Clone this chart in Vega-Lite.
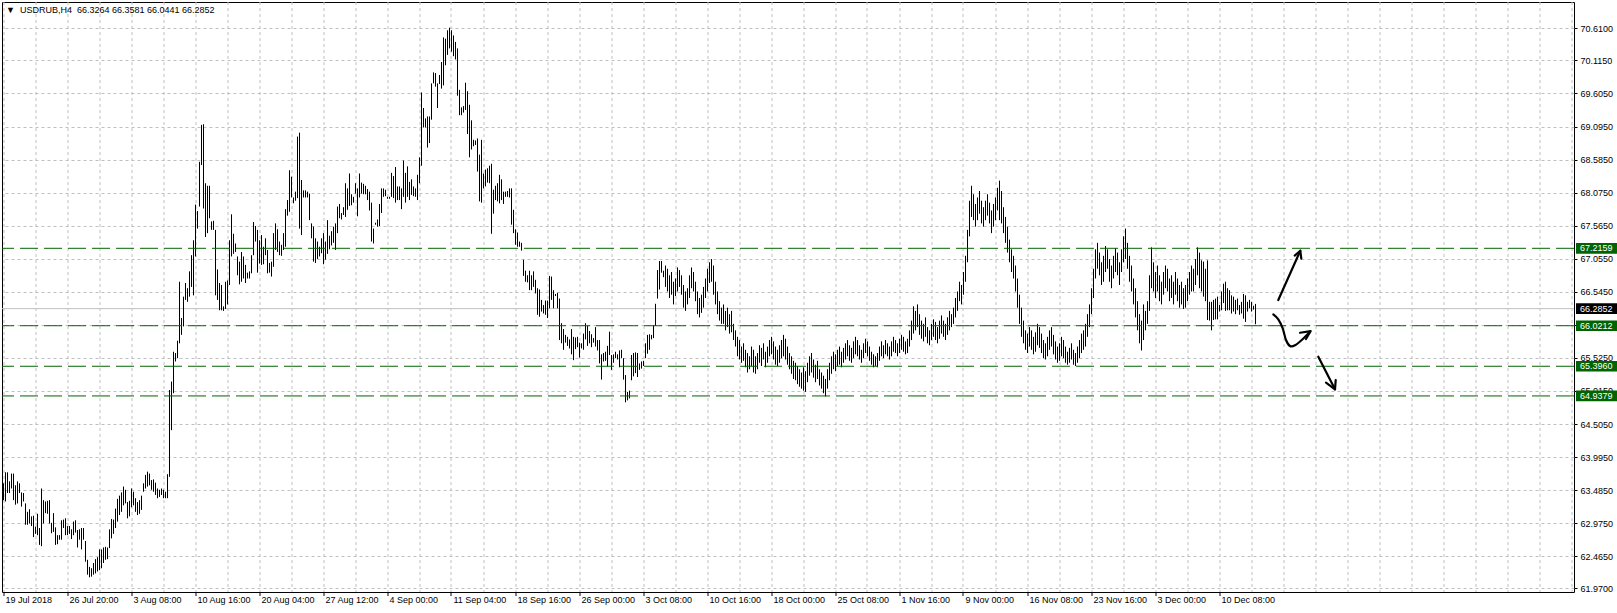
{
"$schema": "https://vega.github.io/schema/vega-lite/v6.json",
"width": 1572, "height": 590,
"autosize": {"type": "none"},
"padding": {"left": 2, "top": 2, "right": 43, "bottom": 21},
"background": "white",
"config": {"view": {"stroke": "black", "strokeWidth": 1}, "font": "Liberation Sans"},
"title": {"text": "▼\u00a0\u00a0USDRUB,H4\u00a0\u00a066.3264 66.3581 66.0441 66.2852", "anchor": "start", "frame": "group", "orient": "top", "offset": -13, "dx": 4, "fontSize": 9, "font": "Liberation Sans", "fontWeight": "normal", "color": "black"},
"resolve": {"axis": {"x": "independent", "y": "independent"}},
"datasets": {
"bars": [
{"i":0,"h":63.59,"l":63.33},{"i":1,"h":63.76,"l":63.31},{"i":2,"h":63.76,"l":63.44},{"i":3,"h":63.62,"l":63.44},{"i":4,"h":63.74,"l":63.51},{"i":5,"h":63.74,"l":63.33},{"i":6,"h":63.56,"l":63.26},{"i":7,"h":63.62,"l":63.28},{"i":8,"h":63.59,"l":63.44},{"i":9,"h":63.45,"l":63.23},
{"i":10,"h":63.44,"l":63.31},{"i":11,"h":63.28,"l":62.95},{"i":12,"h":63.15,"l":62.95},{"i":13,"h":63.19,"l":62.97},{"i":14,"h":63.08,"l":62.93},{"i":15,"h":63.09,"l":62.76},{"i":16,"h":62.92,"l":62.81},{"i":17,"h":63.12,"l":62.79},{"i":18,"h":62.90,"l":62.64},{"i":19,"h":63.51,"l":62.62},
{"i":20,"h":63.33,"l":62.97},{"i":21,"h":63.31,"l":63.13},{"i":22,"h":63.32,"l":63.12},{"i":23,"h":63.33,"l":62.97},{"i":24,"h":62.98,"l":62.82},{"i":25,"h":63.13,"l":62.84},{"i":26,"h":62.91,"l":62.64},{"i":27,"h":62.79,"l":62.65},{"i":28,"h":62.79,"l":62.72},{"i":29,"h":63.02,"l":62.72},
{"i":30,"h":63.03,"l":62.90},{"i":31,"h":63.05,"l":62.79},{"i":32,"h":62.93,"l":62.79},{"i":33,"h":62.93,"l":62.81},{"i":34,"h":62.88,"l":62.73},{"i":35,"h":63.00,"l":62.79},{"i":36,"h":63.02,"l":62.83},{"i":37,"h":62.87,"l":62.60},{"i":38,"h":62.88,"l":62.72},{"i":39,"h":62.90,"l":62.57},
{"i":40,"h":62.90,"l":62.72},{"i":41,"h":62.70,"l":62.38},{"i":42,"h":62.41,"l":62.18},{"i":43,"h":62.30,"l":62.14},{"i":44,"h":62.28,"l":62.15},{"i":45,"h":62.36,"l":62.18},{"i":46,"h":62.42,"l":62.20},{"i":47,"h":62.45,"l":62.23},{"i":48,"h":62.57,"l":62.25},{"i":49,"h":62.57,"l":62.28},
{"i":50,"h":62.60,"l":62.36},{"i":51,"h":62.61,"l":62.41},{"i":52,"h":62.60,"l":62.42},{"i":53,"h":62.88,"l":62.59},{"i":54,"h":63.04,"l":62.74},{"i":55,"h":63.03,"l":62.81},{"i":56,"h":63.20,"l":62.90},{"i":57,"h":63.35,"l":63.00},{"i":58,"h":63.40,"l":63.10},{"i":59,"h":63.45,"l":63.15},
{"i":60,"h":63.54,"l":63.25},{"i":61,"h":63.49,"l":63.28},{"i":62,"h":63.30,"l":63.05},{"i":63,"h":63.32,"l":63.08},{"i":64,"h":63.51,"l":63.22},{"i":65,"h":63.46,"l":63.25},{"i":66,"h":63.36,"l":63.15},{"i":67,"h":63.30,"l":63.10},{"i":68,"h":63.33,"l":63.12},{"i":69,"h":63.40,"l":63.18},
{"i":70,"h":63.59,"l":63.46},{"i":71,"h":63.72,"l":63.51},{"i":72,"h":63.77,"l":63.54},{"i":73,"h":63.74,"l":63.56},{"i":74,"h":63.64,"l":63.49},{"i":75,"h":63.65,"l":63.46},{"i":76,"h":63.60,"l":63.41},{"i":77,"h":63.51,"l":63.36},{"i":78,"h":63.49,"l":63.38},{"i":79,"h":63.51,"l":63.41},
{"i":80,"h":63.49,"l":63.36},{"i":81,"h":63.46,"l":63.36},{"i":82,"h":63.73,"l":63.36},{"i":83,"h":65.03,"l":63.69},{"i":84,"h":65.16,"l":64.41},{"i":85,"h":65.62,"l":64.98},{"i":86,"h":65.60,"l":65.47},{"i":87,"h":65.79,"l":65.52},{"i":88,"h":66.70,"l":65.75},{"i":89,"h":66.14,"l":65.88},
{"i":90,"h":66.47,"l":66.01},{"i":91,"h":66.68,"l":66.42},{"i":92,"h":66.60,"l":66.39},{"i":93,"h":66.86,"l":66.47},{"i":94,"h":67.11,"l":66.62},{"i":95,"h":67.34,"l":66.49},{"i":96,"h":67.89,"l":67.09},{"i":97,"h":67.79,"l":67.52},{"i":98,"h":68.55,"l":67.86},{"i":99,"h":69.12,"l":68.50},
{"i":100,"h":69.13,"l":67.83},{"i":101,"h":68.22,"l":67.39},{"i":102,"h":68.18,"l":67.45},{"i":103,"h":68.18,"l":67.68},{"i":104,"h":67.63,"l":67.50},{"i":105,"h":67.64,"l":67.50},{"i":106,"h":67.50,"l":66.49},{"i":107,"h":66.89,"l":66.42},{"i":108,"h":66.68,"l":66.26},{"i":109,"h":66.65,"l":66.26},
{"i":110,"h":66.32,"l":66.25},{"i":111,"h":66.70,"l":66.28},{"i":112,"h":66.72,"l":66.35},{"i":113,"h":67.34,"l":66.65},{"i":114,"h":67.74,"l":67.09},{"i":115,"h":67.44,"l":67.13},{"i":116,"h":67.29,"l":67.16},{"i":117,"h":67.09,"l":66.80},{"i":118,"h":67.01,"l":66.66},{"i":119,"h":67.16,"l":66.70},
{"i":120,"h":67.09,"l":66.75},{"i":121,"h":66.96,"l":66.68},{"i":122,"h":66.84,"l":66.75},{"i":123,"h":66.86,"l":66.75},{"i":124,"h":67.11,"l":66.83},{"i":125,"h":67.62,"l":67.11},{"i":126,"h":67.56,"l":67.32},{"i":127,"h":67.50,"l":66.84},{"i":128,"h":67.34,"l":66.98},{"i":129,"h":67.42,"l":66.96},
{"i":130,"h":67.24,"l":66.97},{"i":131,"h":67.37,"l":67.11},{"i":132,"h":67.19,"l":66.83},{"i":133,"h":66.99,"l":66.84},{"i":134,"h":67.01,"l":66.78},{"i":135,"h":67.45,"l":66.93},{"i":136,"h":67.60,"l":67.19},{"i":137,"h":67.51,"l":67.16},{"i":138,"h":67.32,"l":67.11},{"i":139,"h":67.27,"l":67.10},
{"i":140,"h":67.45,"l":67.19},{"i":141,"h":67.82,"l":67.24},{"i":142,"h":67.96,"l":67.72},{"i":143,"h":68.42,"l":67.78},{"i":144,"h":68.32,"l":68.00},{"i":145,"h":68.00,"l":67.91},{"i":146,"h":68.09,"l":67.95},{"i":147,"h":68.94,"l":67.99},{"i":148,"h":69.00,"l":67.52},{"i":149,"h":68.27,"l":67.42},
{"i":150,"h":68.11,"l":68.00},{"i":151,"h":68.11,"l":68.00},{"i":152,"h":68.09,"l":68.00},{"i":153,"h":68.06,"l":67.65},{"i":154,"h":67.60,"l":67.37},{"i":155,"h":67.55,"l":67.01},{"i":156,"h":67.37,"l":66.99},{"i":157,"h":67.32,"l":67.05},{"i":158,"h":67.24,"l":67.09},{"i":159,"h":67.37,"l":67.14},
{"i":160,"h":67.45,"l":66.97},{"i":161,"h":67.32,"l":67.04},{"i":162,"h":67.65,"l":67.13},{"i":163,"h":67.41,"l":67.20},{"i":164,"h":67.48,"l":67.26},{"i":165,"h":67.55,"l":67.30},{"i":166,"h":67.60,"l":67.19},{"i":167,"h":67.86,"l":67.45},{"i":168,"h":67.90,"l":67.68},{"i":169,"h":67.76,"l":67.66},
{"i":170,"h":67.85,"l":67.73},{"i":171,"h":68.22,"l":67.70},{"i":172,"h":68.14,"l":67.81},{"i":173,"h":68.37,"l":67.87},{"i":174,"h":68.05,"l":67.88},{"i":175,"h":68.01,"l":67.92},{"i":176,"h":68.22,"l":68.06},{"i":177,"h":68.14,"l":67.71},{"i":178,"h":68.37,"l":68.00},{"i":179,"h":68.23,"l":68.06},
{"i":180,"h":68.21,"l":68.05},{"i":181,"h":68.18,"l":68.05},{"i":182,"h":68.13,"l":67.96},{"i":183,"h":68.09,"l":67.80},{"i":184,"h":67.92,"l":67.32},{"i":185,"h":67.52,"l":67.29},{"i":186,"h":67.61,"l":67.58},{"i":187,"h":67.66,"l":67.55},{"i":188,"h":67.90,"l":67.56},{"i":189,"h":68.14,"l":67.76},
{"i":190,"h":68.14,"l":68.01},{"i":191,"h":68.12,"l":68.02},{"i":192,"h":68.01,"l":67.98},{"i":193,"h":68.01,"l":67.98},{"i":194,"h":68.38,"l":68.01},{"i":195,"h":68.33,"l":67.99},{"i":196,"h":68.47,"l":67.92},{"i":197,"h":68.17,"l":67.96},{"i":198,"h":68.17,"l":67.96},{"i":199,"h":68.14,"l":67.82},
{"i":200,"h":68.57,"l":68.01},{"i":201,"h":68.38,"l":67.92},{"i":202,"h":68.48,"l":68.01},{"i":203,"h":68.24,"l":67.96},{"i":204,"h":68.28,"l":68.04},{"i":205,"h":68.17,"l":68.02},{"i":206,"h":68.14,"l":68.01},{"i":207,"h":68.35,"l":67.96},{"i":208,"h":68.62,"l":68.22},{"i":209,"h":69.62,"l":68.49},
{"i":210,"h":69.38,"l":69.08},{"i":211,"h":69.22,"l":69.08},{"i":212,"h":69.25,"l":68.77},{"i":213,"h":69.25,"l":68.84},{"i":214,"h":69.76,"l":69.20},{"i":215,"h":69.93,"l":69.76},{"i":216,"h":69.92,"l":69.71},{"i":217,"h":69.76,"l":69.38},{"i":218,"h":69.89,"l":69.75},{"i":219,"h":70.09,"l":69.68},
{"i":220,"h":70.47,"l":69.73},{"i":221,"h":70.45,"l":70.04},{"i":222,"h":70.58,"l":70.20},{"i":223,"h":70.62,"l":70.30},{"i":224,"h":70.58,"l":70.25},{"i":225,"h":70.50,"l":70.18},{"i":226,"h":70.40,"l":70.13},{"i":227,"h":70.30,"l":69.57},{"i":228,"h":69.66,"l":69.27},{"i":229,"h":69.39,"l":69.27},
{"i":230,"h":69.41,"l":69.31},{"i":231,"h":69.77,"l":69.35},{"i":232,"h":69.64,"l":68.98},{"i":233,"h":69.43,"l":68.62},{"i":234,"h":69.19,"l":68.74},{"i":235,"h":68.89,"l":68.79},{"i":236,"h":68.88,"l":68.81},{"i":237,"h":68.91,"l":68.40},{"i":238,"h":68.66,"l":67.94},{"i":239,"h":68.89,"l":67.92},
{"i":240,"h":68.37,"l":68.14},{"i":241,"h":68.43,"l":68.17},{"i":242,"h":68.45,"l":68.23},{"i":243,"h":68.49,"l":68.22},{"i":244,"h":68.52,"l":67.44},{"i":245,"h":68.12,"l":67.75},{"i":246,"h":68.18,"l":67.96},{"i":247,"h":68.22,"l":67.94},{"i":248,"h":68.35,"l":67.91},{"i":249,"h":68.28,"l":67.96},
{"i":250,"h":68.09,"l":67.90},{"i":251,"h":68.09,"l":68.01},{"i":252,"h":68.10,"l":68.01},{"i":253,"h":68.14,"l":68.00},{"i":254,"h":68.14,"l":67.58},{"i":255,"h":67.81,"l":67.45},{"i":256,"h":67.51,"l":67.27},{"i":257,"h":67.46,"l":67.24},{"i":258,"h":67.32,"l":67.24},{"i":259,"h":67.30,"l":67.18},
{"i":260,"h":67.04,"l":66.79},{"i":261,"h":66.87,"l":66.70},{"i":262,"h":66.80,"l":66.69},{"i":263,"h":66.87,"l":66.57},{"i":264,"h":66.80,"l":66.57},{"i":265,"h":66.86,"l":66.62},{"i":266,"h":66.73,"l":66.52},{"i":267,"h":66.60,"l":66.19},{"i":268,"h":66.58,"l":66.16},{"i":269,"h":66.42,"l":66.24},
{"i":270,"h":66.34,"l":66.21},{"i":271,"h":66.41,"l":66.19},{"i":272,"h":66.41,"l":66.14},{"i":273,"h":66.79,"l":66.29},{"i":274,"h":66.78,"l":66.42},{"i":275,"h":66.57,"l":66.29},{"i":276,"h":66.51,"l":66.48},{"i":277,"h":66.53,"l":66.29},{"i":278,"h":66.44,"l":65.80},{"i":279,"h":66.06,"l":65.75},
{"i":280,"h":65.97,"l":65.65},{"i":281,"h":65.88,"l":65.76},{"i":282,"h":65.85,"l":65.71},{"i":283,"h":65.81,"l":65.67},{"i":284,"h":65.97,"l":65.58},{"i":285,"h":65.85,"l":65.49},{"i":286,"h":65.84,"l":65.66},{"i":287,"h":65.85,"l":65.69},{"i":288,"h":65.76,"l":65.53},{"i":289,"h":65.75,"l":65.67},
{"i":290,"h":65.90,"l":65.65},{"i":291,"h":66.06,"l":65.81},{"i":292,"h":66.02,"l":65.71},{"i":293,"h":65.94,"l":65.75},{"i":294,"h":65.89,"l":65.69},{"i":295,"h":65.83,"l":65.76},{"i":296,"h":66.00,"l":65.70},{"i":297,"h":65.80,"l":65.64},{"i":298,"h":65.80,"l":65.44},{"i":299,"h":65.58,"l":65.19},
{"i":300,"h":65.60,"l":65.47},{"i":301,"h":65.62,"l":65.48},{"i":302,"h":65.71,"l":65.39},{"i":303,"h":65.93,"l":65.57},{"i":304,"h":65.57,"l":65.34},{"i":305,"h":65.58,"l":65.45},{"i":306,"h":65.62,"l":65.52},{"i":307,"h":65.58,"l":65.50},{"i":308,"h":65.64,"l":65.38},{"i":309,"h":65.65,"l":65.52},
{"i":310,"h":65.52,"l":65.19},{"i":311,"h":65.26,"l":64.84},{"i":312,"h":65.00,"l":64.87},{"i":313,"h":65.02,"l":64.90},{"i":314,"h":65.57,"l":65.18},{"i":315,"h":65.60,"l":65.24},{"i":316,"h":65.61,"l":65.29},{"i":317,"h":65.60,"l":65.23},{"i":318,"h":65.44,"l":65.34},{"i":319,"h":65.47,"l":65.36},
{"i":320,"h":65.48,"l":65.40},{"i":321,"h":65.75,"l":65.52},{"i":322,"h":65.88,"l":65.59},{"i":323,"h":65.89,"l":65.65},{"i":324,"h":65.88,"l":65.81},{"i":325,"h":66.03,"l":65.83},{"i":326,"h":66.36,"l":66.02},{"i":327,"h":66.88,"l":66.44},{"i":328,"h":67.02,"l":66.58},{"i":329,"h":67.02,"l":66.84},
{"i":330,"h":66.87,"l":66.77},{"i":331,"h":66.95,"l":66.62},{"i":332,"h":66.90,"l":66.55},{"i":333,"h":66.80,"l":66.45},{"i":334,"h":66.85,"l":66.50},{"i":335,"h":66.70,"l":66.35},{"i":336,"h":66.75,"l":66.48},{"i":337,"h":66.92,"l":66.55},{"i":338,"h":66.88,"l":66.62},{"i":339,"h":66.80,"l":66.50},
{"i":340,"h":66.65,"l":66.30},{"i":341,"h":66.55,"l":66.25},{"i":342,"h":66.60,"l":66.35},{"i":343,"h":66.80,"l":66.45},{"i":344,"h":66.92,"l":66.60},{"i":345,"h":66.85,"l":66.55},{"i":346,"h":66.70,"l":66.40},{"i":347,"h":66.55,"l":66.20},{"i":348,"h":66.45,"l":66.15},{"i":349,"h":66.50,"l":66.22},
{"i":350,"h":66.62,"l":66.30},{"i":351,"h":66.75,"l":66.45},{"i":352,"h":66.90,"l":66.55},{"i":353,"h":67.00,"l":66.68},{"i":354,"h":67.05,"l":66.70},{"i":355,"h":66.95,"l":66.50},{"i":356,"h":66.70,"l":66.35},{"i":357,"h":66.55,"l":66.20},{"i":358,"h":66.40,"l":66.10},{"i":359,"h":66.30,"l":66.05},
{"i":360,"h":66.35,"l":66.05},{"i":361,"h":66.25,"l":65.95},{"i":362,"h":66.30,"l":66.00},{"i":363,"h":66.20,"l":65.90},{"i":364,"h":66.25,"l":65.92},{"i":365,"h":66.05,"l":65.80},{"i":366,"h":65.95,"l":65.70},{"i":367,"h":65.85,"l":65.55},{"i":368,"h":65.80,"l":65.50},{"i":369,"h":65.70,"l":65.45},
{"i":370,"h":65.75,"l":65.48},{"i":371,"h":65.65,"l":65.38},{"i":372,"h":65.60,"l":65.30},{"i":373,"h":65.55,"l":65.35},{"i":374,"h":65.70,"l":65.40},{"i":375,"h":65.65,"l":65.30},{"i":376,"h":65.55,"l":65.28},{"i":377,"h":65.60,"l":65.35},{"i":378,"h":65.72,"l":65.45},{"i":379,"h":65.68,"l":65.40},
{"i":380,"h":65.75,"l":65.50},{"i":381,"h":65.62,"l":65.38},{"i":382,"h":65.70,"l":65.45},{"i":383,"h":65.80,"l":65.55},{"i":384,"h":65.85,"l":65.58},{"i":385,"h":65.78,"l":65.50},{"i":386,"h":65.70,"l":65.42},{"i":387,"h":65.65,"l":65.40},{"i":388,"h":65.72,"l":65.45},{"i":389,"h":65.80,"l":65.52},
{"i":390,"h":65.88,"l":65.55},{"i":391,"h":65.82,"l":65.50},{"i":392,"h":65.70,"l":65.42},{"i":393,"h":65.60,"l":65.35},{"i":394,"h":65.55,"l":65.28},{"i":395,"h":65.48,"l":65.20},{"i":396,"h":65.45,"l":65.18},{"i":397,"h":65.40,"l":65.12},{"i":398,"h":65.35,"l":65.08},{"i":399,"h":65.30,"l":65.05},
{"i":400,"h":65.38,"l":65.02},{"i":401,"h":65.32,"l":65.00},{"i":402,"h":65.45,"l":65.15},{"i":403,"h":65.55,"l":65.25},{"i":404,"h":65.60,"l":65.30},{"i":405,"h":65.50,"l":65.22},{"i":406,"h":65.42,"l":65.15},{"i":407,"h":65.48,"l":65.20},{"i":408,"h":65.35,"l":65.10},{"i":409,"h":65.30,"l":65.05},
{"i":410,"h":65.25,"l":64.98},{"i":411,"h":65.20,"l":64.93},{"i":412,"h":65.35,"l":65.05},{"i":413,"h":65.45,"l":65.18},{"i":414,"h":65.55,"l":65.28},{"i":415,"h":65.62,"l":65.35},{"i":416,"h":65.58,"l":65.32},{"i":417,"h":65.65,"l":65.40},{"i":418,"h":65.70,"l":65.42},{"i":419,"h":65.62,"l":65.38},
{"i":420,"h":65.68,"l":65.45},{"i":421,"h":65.75,"l":65.50},{"i":422,"h":65.80,"l":65.55},{"i":423,"h":65.72,"l":65.48},{"i":424,"h":65.68,"l":65.45},{"i":425,"h":65.78,"l":65.52},{"i":426,"h":65.85,"l":65.58},{"i":427,"h":65.80,"l":65.55},{"i":428,"h":65.72,"l":65.50},{"i":429,"h":65.65,"l":65.45},
{"i":430,"h":65.75,"l":65.52},{"i":431,"h":65.82,"l":65.60},{"i":432,"h":65.78,"l":65.55},{"i":433,"h":65.70,"l":65.48},{"i":434,"h":65.62,"l":65.42},{"i":435,"h":65.58,"l":65.38},{"i":436,"h":65.55,"l":65.40},{"i":437,"h":65.60,"l":65.38},{"i":438,"h":65.70,"l":65.48},{"i":439,"h":65.78,"l":65.55},
{"i":440,"h":65.72,"l":65.52},{"i":441,"h":65.80,"l":65.58},{"i":442,"h":65.75,"l":65.55},{"i":443,"h":65.70,"l":65.50},{"i":444,"h":65.78,"l":65.55},{"i":445,"h":65.85,"l":65.62},{"i":446,"h":65.80,"l":65.60},{"i":447,"h":65.75,"l":65.55},{"i":448,"h":65.82,"l":65.60},{"i":449,"h":65.88,"l":65.65},
{"i":450,"h":65.85,"l":65.62},{"i":451,"h":65.78,"l":65.58},{"i":452,"h":65.82,"l":65.60},{"i":453,"h":65.95,"l":65.70},{"i":454,"h":66.10,"l":65.80},{"i":455,"h":66.32,"l":65.90},{"i":456,"h":66.25,"l":65.95},{"i":457,"h":66.35,"l":66.00},{"i":458,"h":66.20,"l":65.88},{"i":459,"h":66.10,"l":65.82},
{"i":460,"h":66.05,"l":65.78},{"i":461,"h":66.15,"l":65.85},{"i":462,"h":66.00,"l":65.75},{"i":463,"h":65.95,"l":65.72},{"i":464,"h":66.05,"l":65.80},{"i":465,"h":66.12,"l":65.85},{"i":466,"h":66.08,"l":65.80},{"i":467,"h":66.00,"l":65.75},{"i":468,"h":66.10,"l":65.82},{"i":469,"h":66.18,"l":65.90},
{"i":470,"h":66.10,"l":65.85},{"i":471,"h":66.05,"l":65.80},{"i":472,"h":66.15,"l":65.88},{"i":473,"h":66.25,"l":65.95},{"i":474,"h":66.20,"l":66.00},{"i":475,"h":66.30,"l":66.05},{"i":476,"h":66.45,"l":66.15},{"i":477,"h":66.55,"l":66.25},{"i":478,"h":66.70,"l":66.40},{"i":479,"h":66.65,"l":66.35},
{"i":480,"h":66.85,"l":66.50},{"i":481,"h":67.10,"l":66.70},{"i":482,"h":67.50,"l":67.00},{"i":483,"h":67.95,"l":67.40},{"i":484,"h":68.18,"l":67.70},{"i":485,"h":68.05,"l":67.65},{"i":486,"h":67.90,"l":67.55},{"i":487,"h":68.00,"l":67.65},{"i":488,"h":68.10,"l":67.75},{"i":489,"h":67.95,"l":67.60},
{"i":490,"h":67.85,"l":67.55},{"i":491,"h":67.95,"l":67.65},{"i":492,"h":68.05,"l":67.72},{"i":493,"h":67.92,"l":67.60},{"i":494,"h":67.80,"l":67.45},{"i":495,"h":67.90,"l":67.55},{"i":496,"h":68.00,"l":67.65},{"i":497,"h":68.15,"l":67.80},{"i":498,"h":68.26,"l":67.65},{"i":499,"h":68.10,"l":67.60},
{"i":500,"h":67.85,"l":67.45},{"i":501,"h":67.70,"l":67.30},{"i":502,"h":67.55,"l":67.15},{"i":503,"h":67.35,"l":67.00},{"i":504,"h":67.20,"l":66.85},{"i":505,"h":67.10,"l":66.75},{"i":506,"h":66.95,"l":66.55},{"i":507,"h":66.75,"l":66.30},{"i":508,"h":66.50,"l":66.05},{"i":509,"h":66.30,"l":65.85},
{"i":510,"h":66.10,"l":65.75},{"i":511,"h":65.95,"l":65.65},{"i":512,"h":65.90,"l":65.60},{"i":513,"h":66.00,"l":65.70},{"i":514,"h":65.95,"l":65.65},{"i":515,"h":65.85,"l":65.58},{"i":516,"h":65.92,"l":65.62},{"i":517,"h":66.05,"l":65.72},{"i":518,"h":66.00,"l":65.68},{"i":519,"h":65.90,"l":65.60},
{"i":520,"h":65.80,"l":65.52},{"i":521,"h":65.75,"l":65.50},{"i":522,"h":65.85,"l":65.55},{"i":523,"h":65.95,"l":65.65},{"i":524,"h":66.00,"l":65.70},{"i":525,"h":65.88,"l":65.58},{"i":526,"h":65.78,"l":65.50},{"i":527,"h":65.70,"l":65.45},{"i":528,"h":65.75,"l":65.48},{"i":529,"h":65.85,"l":65.55},
{"i":530,"h":65.80,"l":65.52},{"i":531,"h":65.70,"l":65.45},{"i":532,"h":65.62,"l":65.42},{"i":533,"h":65.68,"l":65.45},{"i":534,"h":65.75,"l":65.50},{"i":535,"h":65.65,"l":65.42},{"i":536,"h":65.60,"l":65.40},{"i":537,"h":65.70,"l":65.45},{"i":538,"h":65.80,"l":65.52},{"i":539,"h":65.90,"l":65.60},
{"i":540,"h":65.95,"l":65.65},{"i":541,"h":66.05,"l":65.70},{"i":542,"h":66.20,"l":65.85},{"i":543,"h":66.35,"l":66.00},{"i":544,"h":66.60,"l":66.20},{"i":545,"h":66.90,"l":66.45},{"i":546,"h":67.20,"l":66.75},{"i":547,"h":67.30,"l":66.90},{"i":548,"h":67.15,"l":66.80},{"i":549,"h":67.00,"l":66.65},
{"i":550,"h":67.10,"l":66.70},{"i":551,"h":67.25,"l":66.85},{"i":552,"h":67.20,"l":66.90},{"i":553,"h":67.05,"l":66.70},{"i":554,"h":66.95,"l":66.60},{"i":555,"h":67.10,"l":66.75},{"i":556,"h":67.22,"l":66.85},{"i":557,"h":67.15,"l":66.80},{"i":558,"h":67.00,"l":66.65},{"i":559,"h":67.20,"l":66.85},
{"i":560,"h":67.40,"l":67.00},{"i":561,"h":67.52,"l":67.05},{"i":562,"h":67.30,"l":66.90},{"i":563,"h":67.10,"l":66.70},{"i":564,"h":66.95,"l":66.55},{"i":565,"h":66.75,"l":66.35},{"i":566,"h":66.60,"l":66.15},{"i":567,"h":66.40,"l":65.95},{"i":568,"h":66.20,"l":65.75},{"i":569,"h":66.10,"l":65.64},
{"i":570,"h":66.35,"l":65.80},{"i":571,"h":66.25,"l":65.95},{"i":572,"h":66.40,"l":66.05},{"i":573,"h":66.80,"l":66.25},{"i":574,"h":67.23,"l":66.60},{"i":575,"h":67.00,"l":66.55},{"i":576,"h":66.85,"l":66.45},{"i":577,"h":66.95,"l":66.55},{"i":578,"h":66.80,"l":66.40},{"i":579,"h":66.70,"l":66.35},
{"i":580,"h":66.85,"l":66.50},{"i":581,"h":66.95,"l":66.60},{"i":582,"h":66.90,"l":66.55},{"i":583,"h":66.75,"l":66.40},{"i":584,"h":66.80,"l":66.45},{"i":585,"h":66.70,"l":66.35},{"i":586,"h":66.85,"l":66.50},{"i":587,"h":66.75,"l":66.40},{"i":588,"h":66.65,"l":66.30},{"i":589,"h":66.70,"l":66.35},
{"i":590,"h":66.60,"l":66.28},{"i":591,"h":66.65,"l":66.30},{"i":592,"h":66.75,"l":66.40},{"i":593,"h":66.85,"l":66.50},{"i":594,"h":66.95,"l":66.55},{"i":595,"h":66.90,"l":66.55},{"i":596,"h":67.05,"l":66.65},{"i":597,"h":67.23,"l":66.80},{"i":598,"h":67.15,"l":66.60},{"i":599,"h":67.03,"l":66.55},
{"i":600,"h":67.01,"l":66.47},{"i":601,"h":66.90,"l":66.40},{"i":602,"h":67.03,"l":66.11},{"i":603,"h":66.39,"l":66.10},{"i":604,"h":66.39,"l":65.95},{"i":605,"h":66.42,"l":66.11},{"i":606,"h":66.44,"l":66.12},{"i":607,"h":66.47,"l":66.12},{"i":608,"h":66.34,"l":66.24},{"i":609,"h":66.55,"l":66.26},
{"i":610,"h":66.67,"l":66.37},{"i":611,"h":66.70,"l":66.25},{"i":612,"h":66.60,"l":66.26},{"i":613,"h":66.57,"l":66.26},{"i":614,"h":66.49,"l":66.21},{"i":615,"h":66.47,"l":66.24},{"i":616,"h":66.42,"l":66.20},{"i":617,"h":66.44,"l":66.26},{"i":618,"h":66.34,"l":66.19},{"i":619,"h":66.39,"l":66.21},
{"i":620,"h":66.51,"l":66.13},{"i":621,"h":66.49,"l":66.08},{"i":622,"h":66.39,"l":66.24},{"i":623,"h":66.42,"l":66.29},{"i":624,"h":66.39,"l":66.24},{"i":625,"h":66.33,"l":66.27},{"i":626,"h":66.3581,"l":66.0441}
],
"levels": [
{"p":66.2852,"t":"66.2852","k":"cur"},
{"p":67.2159,"t":"67.2159","k":"lvl"},
{"p":66.0212,"t":"66.0212","k":"lvl"},
{"p":65.396,"t":"65.3960","k":"lvl"},
{"p":64.9379,"t":"64.9379","k":"lvl"}
],
"arrows": [
{"a":"up","o":0,"i":637.4,"p":66.418},{"a":"up","o":1,"i":648.4,"p":67.178},
{"a":"uph","o":0,"i":645.6,"p":67.104},{"a":"uph","o":1,"i":648.4,"p":67.178},{"a":"uph","o":2,"i":648.9,"p":67.055},
{"a":"cv","o":0,"i":634.9,"p":66.197},{"a":"cv","o":1,"i":637.4,"p":66.12},{"a":"cv","o":2,"i":639.6,"p":65.981},{"a":"cv","o":3,"i":641.25,"p":65.801},{"a":"cv","o":4,"i":643.25,"p":65.708},{"a":"cv","o":5,"i":645.75,"p":65.719},{"a":"cv","o":6,"i":649.1,"p":65.801},{"a":"cv","o":7,"i":653.25,"p":65.929},
{"a":"cvh","o":0,"i":648.25,"p":65.913},{"a":"cvh","o":1,"i":653.6,"p":65.939},{"a":"cvh","o":2,"i":651.25,"p":65.816},
{"a":"dn","o":0,"i":657.4,"p":65.543},{"a":"dn","o":1,"i":665.75,"p":65.04},
{"a":"dnh","o":0,"i":661.25,"p":65.142},{"a":"dnh","o":1,"i":665.75,"p":65.04},{"a":"dnh","o":2,"i":666.1,"p":65.183}
]
},
"layer": [
{
"data": {"name": "levels"},
"transform": [{"filter": "datum.k == 'cur'"}],
"mark": {"type": "rule", "color": "#c0c0c0", "strokeWidth": 1},
"encoding": {"y": {"field": "p", "type": "quantitative", "scale": {"domain": [61.913, 71.016], "nice": false, "zero": false}, "axis": null}}
},
{
"data": {"name": "bars"},
"mark": {"type": "rule", "color": "black", "strokeWidth": 1},
"encoding": {
"x": {"field": "i", "type": "quantitative", "scale": {"domain": [-0.75, 785.25], "nice": false, "zero": false},
"axis": {"title": null, "domain": false, "translate": 0,
"values": [0,16,32,48,64,80,96,112,128,144,160,176,192,208,224,240,256,272,288,304,320,336,352,368,384,400,416,432,448,464,480,496,512,528,544,560,576,592,608,624,640,656,672,688,704,720,736,752,768,784],
"grid": true, "gridColor": "#c0c0c0", "gridDash": [3,3], "gridWidth": 1,
"ticks": true, "tickColor": "black", "tickSize": 4, "tickWidth": 1,
"tickOpacity": {"condition": {"test": "datum.value % 32 === 0 && datum.value <= 608", "value": 1}, "value": 0},
"labelExpr": "datum.value % 32 === 0 && datum.value <= 608 ? ['19 Jul 2018','26 Jul 20:00','3 Aug 08:00','10 Aug 16:00','20 Aug 04:00','27 Aug 12:00','4 Sep 00:00','11 Sep 04:00','18 Sep 16:00','26 Sep 00:00','3 Oct 08:00','10 Oct 16:00','18 Oct 00:00','25 Oct 08:00','1 Nov 16:00','9 Nov 00:00','16 Nov 08:00','23 Nov 16:00','3 Dec 00:00','10 Dec 08:00'][datum.value / 32] : ''",
"labelAlign": "left", "labelBaseline": "top", "labelPadding": 0, "labelOffset": 2, "labelFlush": false, "labelOverlap": false, "labelBound": false,
"labelFont": "Liberation Sans", "labelFontSize": 9, "labelColor": "black"}},
"y": {"field": "h", "type": "quantitative", "scale": {"domain": [61.913, 71.016], "nice": false, "zero": false},
"axis": {"orient": "right", "title": null, "domain": false,
"values": [61.97,62.465,62.975,63.485,63.995,64.505,65.015,65.525,66.035,66.545,67.055,67.565,68.075,68.585,69.095,69.605,70.115,70.61],
"format": ".4f", "grid": true, "gridColor": "#c0c0c0", "gridDash": [3,3], "gridWidth": 1,
"tickColor": "black", "tickSize": 3, "labelPadding": 3, "labelFlush": false, "labelOverlap": false, "labelBound": false,
"labelFont": "Liberation Sans", "labelFontSize": 9, "labelColor": "black", "labelBaseline": "middle"}},
"y2": {"field": "l"}
}
},
{
"data": {"name": "levels"},
"transform": [{"filter": "datum.k == 'lvl'"}],
"mark": {"type": "rule", "color": "#006400", "strokeWidth": 1, "strokeDash": [18, 6]},
"encoding": {"y": {"field": "p", "type": "quantitative", "scale": {"domain": [61.913, 71.016], "nice": false, "zero": false}, "axis": null}}
},
{
"data": {"name": "arrows"},
"transform": [{"filter": "datum.a != 'cv'"}],
"mark": {"type": "line", "color": "black", "strokeWidth": 2.2, "strokeCap": "round", "strokeJoin": "round"},
"encoding": {
"x": {"field": "i", "type": "quantitative", "scale": {"domain": [-0.75, 785.25], "nice": false, "zero": false}, "axis": null},
"y": {"field": "p", "type": "quantitative", "scale": {"domain": [61.913, 71.016], "nice": false, "zero": false}, "axis": null},
"detail": {"field": "a", "type": "nominal"},
"order": {"field": "o", "type": "quantitative"}
}
},
{
"data": {"name": "arrows"},
"transform": [{"filter": "datum.a == 'cv'"}],
"mark": {"type": "line", "color": "black", "strokeWidth": 2.2, "strokeCap": "round", "interpolate": "cardinal"},
"encoding": {
"x": {"field": "i", "type": "quantitative", "scale": {"domain": [-0.75, 785.25], "nice": false, "zero": false}, "axis": null},
"y": {"field": "p", "type": "quantitative", "scale": {"domain": [61.913, 71.016], "nice": false, "zero": false}, "axis": null},
"order": {"field": "o", "type": "quantitative"}
}
},
{
"data": {"name": "levels"},
"mark": {"type": "point", "shape": "M-1,-0.26H1V0.26H-1Z", "filled": true, "size": 1681, "opacity": 1, "strokeWidth": 0},
"encoding": {
"x": {"datum": 796.5, "type": "quantitative", "scale": {"domain": [-0.75, 785.25], "nice": false, "zero": false}, "axis": null},
"y": {"field": "p", "type": "quantitative", "scale": {"domain": [61.913, 71.016], "nice": false, "zero": false}, "axis": null},
"color": {"field": "k", "type": "nominal", "scale": {"domain": ["lvl", "cur"], "range": ["#006400", "#000000"]}, "legend": null}
}
},
{
"data": {"name": "levels"},
"mark": {"type": "text", "align": "left", "baseline": "middle", "color": "white", "font": "Liberation Sans", "fontSize": 9},
"encoding": {
"x": {"datum": 788.25, "type": "quantitative", "scale": {"domain": [-0.75, 785.25], "nice": false, "zero": false}, "axis": null},
"y": {"field": "p", "type": "quantitative", "scale": {"domain": [61.913, 71.016], "nice": false, "zero": false}, "axis": null},
"text": {"field": "t", "type": "nominal"}
}
}
]
}
